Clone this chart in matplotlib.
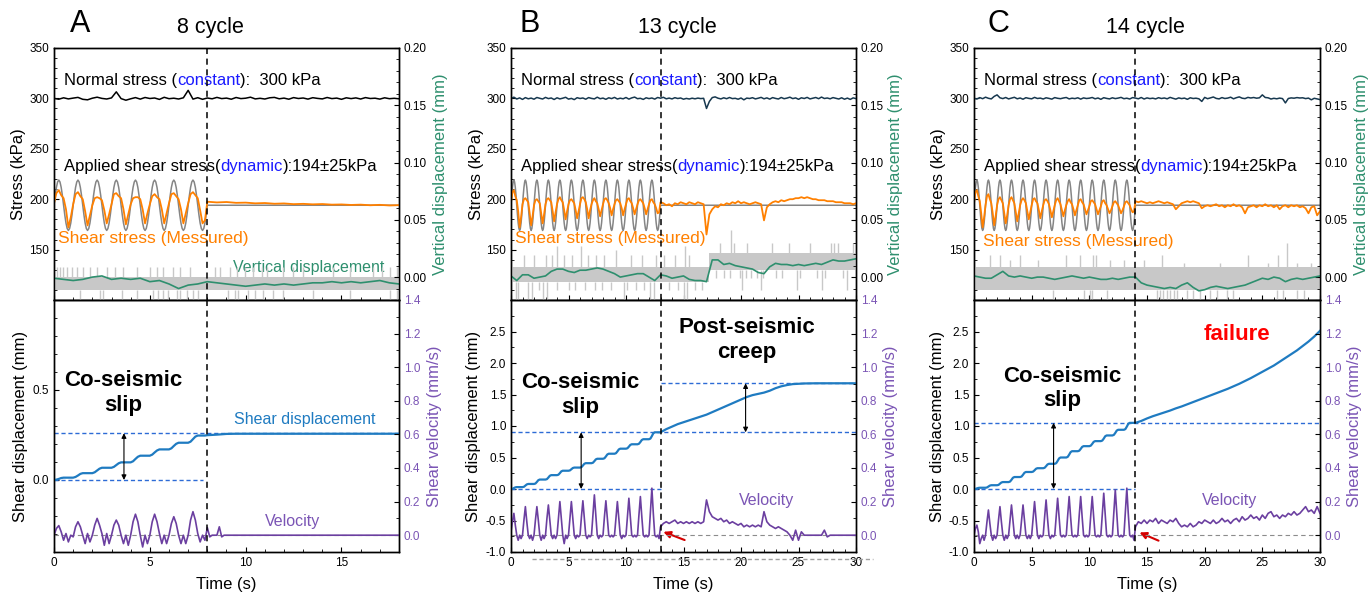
import numpy as np
import matplotlib
matplotlib.use('Agg')
import matplotlib.pyplot as plt
from matplotlib.ticker import AutoMinorLocator, FormatStrFormatter, MultipleLocator
from matplotlib.offsetbox import TextArea, HPacker, AnchoredOffsetbox

plt.rcParams['font.family'] = ['Liberation Sans', 'DejaVu Sans']
plt.rcParams['font.size'] = 8.5
plt.rcParams['axes.linewidth'] = 1.0

ORANGE = '#ff8000'
APPLIED = '#858585'
NAVY = '#17384f'
GREEN = '#2e8f6e'
VDGRAY = '#c8c8c8'
BLUE = '#1f7bc1'
DASHBLUE = '#2d6bd6'
PURPLE = '#6b3fa0'
PURPLE_LBL = '#7b55b5'
WORDBLUE = '#1a1aff'

# applied shear stress: one 1 s loading cycle (16 samples), then hold value
applied_cycle = [194.0, 203.6, 211.7, 217.1, 219.0, 217.1, 211.7, 203.6,
                 194.0, 184.4, 176.3, 170.9, 169.0, 170.9, 176.3, 184.4]
applied_hold = 194.0

# ---------------- panel A : 8 cycles ----------------
normal_a = [300.0, 299.2, 300.6, 299.5, 300.3, 301.0, 299.1, 298.6,
            300.2, 301.2, 300.0, 299.4, 300.5, 306.5, 299.8, 298.2,
            299.6, 300.8, 299.3, 300.9, 299.9, 300.4, 299.0, 301.1,
            299.7, 300.2, 299.4, 300.6, 308.0, 299.3, 300.7, 299.1,
            300.4, 299.6, 301.0, 299.8, 300.3, 299.2, 300.9, 299.8,
            300.2, 301.2, 299.5, 300.1, 299.4, 300.6, 301.0, 299.6,
            300.3, 299.2, 300.8, 299.9, 300.4, 299.3, 300.7, 300.0,
            299.5, 300.9, 299.8, 300.3, 299.1, 300.6, 299.8, 300.5,
            299.4, 300.8, 299.9, 300.2, 299.3, 300.6, 299.7, 300.1, 299.6]
shear_a_cyc = [[196, 206, 209, 204, 201, 190, 172, 182],
               [195, 205, 207, 203, 200, 188, 174, 184],
               [194, 201, 202, 201, 199, 189, 176, 185],
               [195, 205, 206, 203, 201, 190, 175, 185],
               [195, 201, 202, 202, 200, 190, 176, 186],
               [195, 203, 205, 202, 200, 190, 176, 186],
               [196, 205, 206, 203, 200, 190, 176, 186],
               [196, 205, 207, 204, 201, 189, 176, 179]]
shear_a_post = [197.5, 196.8, 197.2, 196.4, 196.6, 195.9, 196.2, 195.5, 195.8, 195.1, 195.4,
                194.9, 195.2, 194.6, 194.8, 194.3, 194.6, 194.0, 194.4, 193.8, 194.1]
vd_a = [-0.001, -0.002, -0.003, -0.002, 0.000, 0.001, -0.002, -0.001, -0.002, -0.001,
        -0.004, -0.003, -0.006, -0.010, -0.007, -0.006, -0.004, -0.005, -0.006, -0.007,
        -0.008, -0.007, -0.006, -0.007, -0.006, -0.007, -0.006, -0.005, -0.005, -0.004,
        -0.005, -0.004, -0.005, -0.004, -0.003, -0.005, -0.006]
vd_band_a_t = [0, 18]
vd_band_a_lo = [-0.011, -0.011]
vd_band_a_hi = [0.0, 0.0]
vd_up_a_t = [0.14, 0.31, 0.49, 0.66, 0.92, 1.18, 1.53, 1.88, 2.23, 2.75, 3.18, 3.62, 4.31, 5.01,
             5.36, 5.70, 6.23, 6.57, 7.10, 8.40, 8.66, 9.18, 9.53, 9.97, 10.40, 10.84, 11.10,
             11.97, 12.49, 13.01, 14.57, 15.44, 16.66, 17.10, 17.53, 17.88]
vd_up_a_y = [0.009] * 36
vd_dn_a_t = [1.36, 2.40, 2.58, 3.53, 4.31, 5.18, 5.44, 5.70, 5.97, 6.40, 6.57, 6.92, 7.27,
             7.53, 9.10, 9.44, 9.62, 10.14, 10.49, 10.92, 11.44, 11.97, 13.53, 15.44, 17.53, 17.88]
vd_dn_a_y = [-0.02] * 26
disp_a_cyc = [[0.000, 0.002, 0.006, 0.011, 0.013, 0.013, 0.013, 0.013],
              [0.013, 0.017, 0.025, 0.034, 0.038, 0.038, 0.038, 0.038],
              [0.038, 0.043, 0.053, 0.063, 0.068, 0.068, 0.068, 0.068],
              [0.068, 0.073, 0.083, 0.093, 0.098, 0.098, 0.098, 0.098],
              [0.098, 0.104, 0.117, 0.129, 0.135, 0.135, 0.135, 0.135],
              [0.135, 0.141, 0.153, 0.164, 0.170, 0.170, 0.170, 0.170],
              [0.170, 0.176, 0.189, 0.201, 0.207, 0.207, 0.207, 0.207],
              [0.207, 0.213, 0.227, 0.241, 0.247, 0.247, 0.247, 0.247]]
disp_a_post = [0.249, 0.252, 0.256, 0.257, 0.257, 0.257, 0.257, 0.257, 0.257, 0.257, 0.257,
               0.257, 0.257, 0.257, 0.257, 0.257, 0.257, 0.257, 0.257, 0.257, 0.257]
vel_a_cyc = [[0.00, 0.04, 0.057, 0.02, -0.03, 0.01, -0.04, 0.00],
             [-0.01, 0.05, 0.08, 0.05, 0.00, -0.05, 0.01, -0.04],
             [0.00, 0.06, 0.10, 0.06, 0.01, -0.06, 0.01, -0.05],
             [0.00, 0.06, 0.09, 0.06, 0.00, -0.05, 0.00, -0.06],
             [0.00, 0.08, 0.125, 0.08, 0.00, -0.07, 0.00, -0.05],
             [0.00, 0.08, 0.125, 0.08, 0.01, -0.05, 0.00, -0.05],
             [0.00, 0.07, 0.11, 0.07, 0.00, -0.05, 0.00, -0.05],
             [0.00, 0.09, 0.14, 0.09, 0.01, -0.04, 0.00, -0.03]]
vel_a_post = [0.045, -0.01, 0.0, 0.0, 0.0, 0.05, -0.01, 0.0, 0.0]   # 8 s .. 9 s
vel_a_tail = [0.0, 0.0]                                              # 9 s .. 18 s

# ---------------- panel B : 13 cycles ----------------
normal_b = [300.0, 301.2, 299.4, 300.5, 299.0, 300.8, 299.6, 300.3,
            299.2, 300.9, 300.1, 299.4, 301.0, 299.8, 300.4, 298.9,
            300.6, 299.5, 300.2, 301.1, 299.3, 300.0, 298.8, 300.7,
            299.9, 300.4, 299.2, 300.8, 300.0, 299.5, 301.2, 299.7,
            300.3, 299.1, 300.6, 299.8, 301.0, 299.4, 300.2, 299.6,
            300.9, 299.3, 300.5, 301.3, 299.7, 300.1, 299.0, 300.6,
            299.8, 300.4, 299.3, 300.9, 300.2, 301.1, 299.6, 300.3,
            299.5, 300.7, 299.9, 300.4, 299.2, 300.0, 299.4, 300.2,
            299.6, 300.3, 299.8, 300.1, 290.0, 297.0, 300.8, 301.5,
            300.2, 299.5, 300.6, 299.7, 300.9, 299.8, 300.1, 299.2,
            300.4, 298.6, 300.3, 299.9, 300.7, 299.5, 300.2, 301.0,
            299.6, 300.5, 299.3, 300.8, 300.0, 299.4, 300.9, 299.7,
            300.3, 301.2, 299.8, 300.5, 299.1, 300.6, 299.9, 301.0,
            299.5, 300.2, 300.9, 299.7, 301.3, 299.9, 300.4, 299.6,
            300.8, 300.1, 299.4, 300.6, 299.2, 300.3, 299.0, 300.5, 299.8]
shear_b_cyc = [[197, 207, 209, 203, 199, 188, 172, 182],
               [195, 200, 201, 199, 197, 186, 174, 183],
               [194, 199, 200, 198, 196, 186, 176, 185],
               [195, 200, 201, 199, 197, 188, 178, 187],
               [195, 200, 202, 199, 197, 189, 180, 188],
               [195, 199, 200, 198, 196, 189, 181, 188],
               [195, 201, 202, 200, 197, 190, 181, 189],
               [195, 199, 201, 198, 196, 190, 183, 189],
               [195, 200, 201, 199, 196, 191, 184, 190],
               [195, 199, 200, 198, 196, 191, 184, 190],
               [195, 200, 201, 198, 196, 191, 185, 190],
               [195, 199, 200, 198, 196, 191, 185, 190],
               [195, 199, 200, 197, 195, 191, 186, 187]]
shear_b_post = [197, 196, 194, 195, 193, 196, 195, 197, 196, 195, 197, 196, 195, 197, 196, 195,
                165, 185, 190, 193, 192, 195, 194, 196, 195, 197, 196, 198, 196, 197, 196, 195,
                196, 197, 196, 195, 179, 192, 195, 197, 198, 197, 199, 198, 199, 200, 200, 201,
                201, 202, 201, 202, 201, 200, 200, 199, 199, 199, 198, 198, 198, 197, 197, 197,
                196, 196, 196, 195, 196]
vd_b = [0.001, -0.003, 0.002, 0.002, -0.001, 0.000, 0.001, 0.005, 0.007, 0.007,
        0.005, 0.004, 0.006, 0.006, 0.007, 0.008, 0.007, 0.005, 0.003, 0.000,
        0.001, 0.002, 0.003, 0.003, 0.000, -0.003, 0.002, 0.001, -0.001, 0.000,
        0.001, -0.002, -0.003, -0.003, -0.004, 0.015, 0.015, 0.011, 0.012, 0.010,
        0.009, 0.008, 0.007, 0.004, 0.003, 0.009, 0.012, 0.011, 0.011, 0.010,
        0.011, 0.010, 0.011, 0.012, 0.011, 0.013, 0.015, 0.014, 0.014, 0.015, 0.016]
vd_band_b_t = [0, 17.2, 30]
vd_band_b_lo = [-0.004, 0.006, 0.006]
vd_band_b_hi = [0.009, 0.021, 0.021]
vd_up_b_t = [1.1, 2.0, 3.0, 3.55, 4.0, 4.6, 5.3, 6.1, 6.7, 7.4, 8.1, 9.1, 10.4, 11.4, 12.6,
             13.3, 14.3, 15.1, 15.5, 18.2, 19.1, 19.4, 20.5, 22.7, 24.2, 26.0, 27.8, 28.1,
             28.4, 29.7]
vd_up_b_y = [0.019, 0.019, 0.019, 0.019, 0.027, 0.019, 0.019, 0.027, 0.019, 0.019, 0.019,
             0.024, 0.019, 0.019, 0.019, 0.019, 0.019, 0.027, 0.019, 0.030, 0.041, 0.030,
             0.030, 0.030, 0.030, 0.030, 0.030, 0.030, 0.030, 0.030]
vd_dn_b_t = [0.4, 0.6, 1.5, 1.8, 2.8, 3.1, 9.8, 12.1, 12.4, 15.0, 15.3,
             2.4, 4.0, 5.0, 5.6, 6.4, 7.3, 7.9, 8.7, 10.1, 10.9, 11.6, 13.7, 14.5, 16.0,
             16.6, 20.1, 21.7, 24.9, 27.0, 29.2,
             17.8, 18.5, 19.0, 19.9, 20.4, 20.9, 21.4, 21.9, 23.0, 23.6, 25.1, 26.6, 27.3, 28.9]
vd_dn_b_y = [-0.02] * 11 + [-0.011] * 20 + [-0.001] * 14
disp_b_cyc = [[0.000, 0.003, 0.014, 0.026, 0.030, 0.030, 0.030, 0.030],
              [0.030, 0.035, 0.053, 0.073, 0.080, 0.080, 0.080, 0.080],
              [0.080, 0.087, 0.112, 0.140, 0.150, 0.150, 0.150, 0.150],
              [0.150, 0.157, 0.182, 0.210, 0.220, 0.220, 0.220, 0.220],
              [0.220, 0.227, 0.252, 0.280, 0.290, 0.290, 0.290, 0.290],
              [0.290, 0.295, 0.313, 0.333, 0.340, 0.340, 0.340, 0.340],
              [0.340, 0.347, 0.372, 0.400, 0.410, 0.410, 0.410, 0.410],
              [0.410, 0.417, 0.442, 0.470, 0.480, 0.480, 0.480, 0.480],
              [0.480, 0.488, 0.516, 0.548, 0.560, 0.560, 0.560, 0.560],
              [0.560, 0.568, 0.596, 0.628, 0.640, 0.640, 0.640, 0.640],
              [0.640, 0.647, 0.672, 0.700, 0.710, 0.710, 0.710, 0.710],
              [0.710, 0.718, 0.746, 0.778, 0.790, 0.790, 0.790, 0.790],
              [0.790, 0.801, 0.840, 0.884, 0.900, 0.900, 0.900, 0.900]]
disp_b_post = [0.90, 0.95, 0.99, 1.03, 1.06, 1.09, 1.12, 1.15, 1.18, 1.22, 1.26, 1.30,
               1.34, 1.38, 1.42, 1.46, 1.49, 1.51, 1.53, 1.56, 1.60, 1.63, 1.65, 1.665,
               1.67, 1.675, 1.677, 1.678, 1.678, 1.678, 1.678, 1.678, 1.678, 1.678, 1.678]
vel_b_cyc = [[0.02, 0.08, 0.13, 0.06, 0.00, -0.03, 0.00, -0.02],
             [0.00, 0.09, 0.17, 0.08, 0.00, -0.02, 0.00, -0.03],
             [0.00, 0.09, 0.17, 0.09, 0.00, -0.03, 0.00, -0.02],
             [0.00, 0.10, 0.18, 0.09, 0.00, -0.02, 0.00, -0.02],
             [0.00, 0.10, 0.20, 0.10, 0.00, -0.05, 0.00, -0.02],
             [0.00, 0.10, 0.20, 0.10, 0.00, -0.02, 0.00, -0.01],
             [0.00, 0.11, 0.205, 0.10, 0.00, -0.02, 0.00, -0.01],
             [0.00, 0.12, 0.24, 0.12, 0.00, -0.02, 0.00, -0.01],
             [0.00, 0.11, 0.205, 0.10, 0.00, -0.01, 0.00, -0.01],
             [0.00, 0.10, 0.20, 0.10, 0.00, -0.02, 0.00, -0.01],
             [0.00, 0.11, 0.22, 0.11, 0.00, -0.01, 0.00, -0.01],
             [0.00, 0.12, 0.23, 0.11, 0.00, -0.01, 0.00, -0.01],
             [0.00, 0.14, 0.28, 0.13, 0.00, -0.01, 0.00, -0.02]]
vel_b_post = [0.05, 0.07, 0.08, 0.07, 0.08, 0.09, 0.07, 0.08, 0.07, 0.08, 0.07, 0.08, 0.07,
              0.08, 0.07, 0.08, 0.21, 0.14, 0.11, 0.10, 0.09, 0.10, 0.08, 0.09, 0.07, 0.08,
              0.07, 0.06, 0.07, 0.05, 0.06, 0.05, 0.06, 0.05, 0.06, 0.05, 0.14, 0.08, 0.06,
              0.05, 0.04, 0.05, 0.04, 0.03, 0.02, 0.00, -0.03, 0.03, -0.03, 0.02, 0.00, 0.00,
              0.00, 0.00, 0.00, 0.00, 0.00, 0.03, -0.01, 0.00, 0.00, 0.00, 0.00, 0.00, 0.00,
              0.00, 0.00, 0.00, 0.00]

# ---------------- panel C : 14 cycles ----------------
normal_c = [300.0, 299.4, 300.8, 299.7, 301.2, 300.1, 299.5, 302.0,
            303.5, 300.6, 299.8, 300.9, 299.5, 300.3, 301.1, 299.6,
            300.4, 299.2, 300.7, 300.0, 299.6, 301.0, 299.9, 300.3,
            299.4, 300.6, 300.0, 299.3, 300.8, 300.1, 299.7, 300.4,
            300.9, 299.5, 300.2, 299.8, 300.6, 299.3, 300.5, 299.9,
            300.2, 300.9, 299.6, 300.4, 299.1, 300.7, 300.0, 299.5,
            300.6, 299.8, 300.3, 301.0, 299.7, 300.2, 299.4, 300.8,
            300.3, 299.6, 300.9, 299.4, 300.5, 299.8, 300.2, 299.5,
            300.7, 299.9, 300.4, 299.6, 301.0, 300.1, 299.3, 300.5,
            299.8, 300.3, 299.1, 300.6, 299.9, 300.2, 299.6, 297.0,
            301.0, 299.7, 300.5, 301.4, 300.0, 299.5, 300.8, 299.9,
            300.3, 301.2, 299.6, 300.7, 301.5, 300.2, 299.8, 301.0,
            300.4, 300.9, 300.2, 300.6, 303.5, 300.9, 300.6, 299.4,
            300.1, 299.6, 300.3, 299.8, 295.5, 299.9, 300.5, 300.2,
            300.8, 300.4, 300.6, 299.8, 300.3, 298.6, 300.1, 299.5, 298.8]
shear_c_cyc = [[196, 207, 209, 203, 198, 186, 172, 182],
               [194, 203, 205, 200, 196, 186, 174, 183],
               [194, 200, 202, 199, 196, 186, 176, 184],
               [194, 200, 202, 199, 196, 187, 178, 186],
               [194, 199, 201, 199, 196, 188, 180, 187],
               [194, 200, 201, 198, 196, 189, 181, 188],
               [194, 199, 200, 198, 195, 189, 182, 188],
               [194, 199, 201, 198, 195, 189, 183, 189],
               [194, 198, 200, 197, 195, 190, 184, 189],
               [194, 199, 200, 197, 195, 190, 185, 189],
               [193, 198, 199, 197, 195, 190, 185, 189],
               [193, 198, 199, 196, 194, 190, 186, 189],
               [193, 197, 198, 196, 194, 190, 186, 189],
               [193, 197, 198, 196, 194, 190, 187, 188]]
shear_c_post = [198, 197, 198, 197, 196, 197, 196, 197, 198, 197, 196, 197, 196, 195, 190,
                193, 196, 197, 198, 197, 198, 197, 196, 191, 193, 194, 193, 194, 195, 193,
                194, 192, 194, 193, 195, 193, 194, 192, 186, 192, 193, 194, 192, 194, 193,
                195, 193, 194, 192, 194, 190, 193, 194, 192, 194, 193, 194, 192, 193, 191,
                186, 192, 193, 184, 188]
vd_c = [0.001, 0.000, -0.001, -0.001, 0.002, 0.005, 0.001, 0.000, 0.001, 0.000,
        -0.001, 0.000, 0.000, -0.001, -0.002, -0.001, 0.000, 0.001, 0.000, -0.001,
        0.000, -0.001, -0.002, -0.002, -0.001, -0.002, -0.001, 0.000, 0.000, -0.005,
        -0.007, -0.008, -0.009, -0.010, -0.009, -0.010, -0.007, -0.005, -0.009, -0.012,
        -0.011, -0.009, -0.008, -0.009, -0.010, -0.009, -0.008, -0.007, -0.005, -0.003,
        -0.001, -0.002, 0.000, -0.001, -0.004, -0.002, -0.001, -0.002, -0.001, 0.000, 0.001]
vd_band_c_t = [0, 30]
vd_band_c_lo = [-0.011, -0.011]
vd_band_c_hi = [0.009, 0.009]
vd_up_c_t = [1.36, 2.23, 3.1, 4.0, 5.56, 8.0, 9.2, 10.3, 10.6, 11.8, 13.0, 14.7, 16.3, 18.2,
             21.3, 23.8, 25.5, 26.4, 27.1, 28.0, 29.2]
vd_up_c_y = [0.019, 0.019, 0.015, 0.019, 0.015, 0.019, 0.019, 0.019, 0.019, 0.015, 0.015,
             0.015, 0.019, 0.012, 0.012, 0.019, 0.012, 0.019, 0.030, 0.012, 0.012]
vd_dn_c_t = [6.87, 9.5, 10.05, 10.2, 11.5, 15.85, 16.1, 16.4, 16.7, 17.0, 17.3, 17.6, 18.5,
             19.0, 19.6, 20.5, 21.1, 21.9, 22.5, 26.3, 26.8, 28.0, 28.6]
vd_dn_c_y = [-0.02] * 23
disp_c_cyc = [[0.000, 0.002, 0.009, 0.017, 0.020, 0.020, 0.020, 0.020],
              [0.020, 0.024, 0.038, 0.054, 0.060, 0.060, 0.060, 0.060],
              [0.060, 0.065, 0.083, 0.103, 0.110, 0.110, 0.110, 0.110],
              [0.110, 0.118, 0.146, 0.178, 0.190, 0.190, 0.190, 0.190],
              [0.190, 0.198, 0.226, 0.258, 0.270, 0.270, 0.270, 0.270],
              [0.270, 0.276, 0.297, 0.321, 0.330, 0.330, 0.330, 0.330],
              [0.330, 0.337, 0.362, 0.390, 0.400, 0.400, 0.400, 0.400],
              [0.400, 0.410, 0.445, 0.485, 0.500, 0.500, 0.500, 0.500],
              [0.500, 0.510, 0.545, 0.585, 0.600, 0.600, 0.600, 0.600],
              [0.600, 0.608, 0.636, 0.668, 0.680, 0.680, 0.680, 0.680],
              [0.680, 0.688, 0.716, 0.748, 0.760, 0.760, 0.760, 0.760],
              [0.760, 0.769, 0.800, 0.837, 0.850, 0.850, 0.850, 0.850],
              [0.850, 0.859, 0.890, 0.927, 0.940, 0.940, 0.940, 0.940],
              [0.940, 0.951, 0.990, 1.034, 1.050, 1.050, 1.050, 1.050]]
disp_c_post = [1.05, 1.08, 1.12, 1.155, 1.185, 1.215, 1.245, 1.28, 1.31, 1.345, 1.38, 1.415,
               1.45, 1.485, 1.52, 1.555, 1.59, 1.63, 1.67, 1.715, 1.76, 1.81, 1.86, 1.91,
               1.96, 2.02, 2.08, 2.14, 2.20, 2.27, 2.34, 2.42, 2.51]
vel_c_cyc = [[0.00, 0.04, 0.06, 0.02, -0.05, -0.02, 0.00, -0.03],
             [0.00, 0.08, 0.15, 0.07, 0.00, -0.03, 0.00, -0.02],
             [0.00, 0.09, 0.17, 0.08, 0.00, -0.03, 0.00, -0.02],
             [0.00, 0.09, 0.18, 0.09, 0.00, -0.02, 0.00, -0.02],
             [0.00, 0.09, 0.18, 0.09, 0.00, -0.02, 0.00, -0.02],
             [0.00, 0.10, 0.20, 0.10, 0.00, -0.02, 0.00, -0.01],
             [0.00, 0.11, 0.21, 0.10, 0.00, -0.02, 0.00, -0.01],
             [0.00, 0.11, 0.22, 0.11, 0.00, -0.01, 0.00, -0.01],
             [0.00, 0.12, 0.23, 0.11, 0.00, -0.01, 0.00, -0.01],
             [0.00, 0.12, 0.23, 0.11, 0.00, -0.01, 0.00, -0.01],
             [0.00, 0.12, 0.23, 0.11, 0.00, -0.01, 0.00, -0.01],
             [0.00, 0.13, 0.25, 0.12, 0.00, -0.01, 0.00, -0.01],
             [0.00, 0.14, 0.27, 0.13, 0.00, -0.01, 0.00, -0.01],
             [0.00, 0.14, 0.28, 0.13, 0.00, -0.01, 0.00, -0.03]]
vel_c_post = [0.05, 0.08, 0.07, 0.09, 0.07, 0.09, 0.08, 0.10, 0.07, 0.09, 0.08, 0.07, 0.09,
              0.08, 0.10, 0.07, 0.05, 0.06, 0.05, 0.07, 0.05, 0.06, 0.08, 0.07, 0.09, 0.08,
              0.07, 0.09, 0.07, 0.08, 0.10, 0.08, 0.09, 0.07, 0.09, 0.10, 0.08, 0.11, 0.09,
              0.10, 0.12, 0.10, 0.11, 0.09, 0.12, 0.10, 0.13, 0.14, 0.11, 0.12, 0.10, 0.12,
              0.11, 0.13, 0.12, 0.14, 0.12, 0.13, 0.15, 0.17, 0.14, 0.15, 0.13, 0.17, 0.13]


def cyc_series(cycles, per_s):
    y = np.ravel(np.asarray(cycles, float))
    return np.arange(len(y)) / per_s, y


def seg(t0, t1, vals):
    return np.linspace(t0, t1, len(vals)), np.asarray(vals, float)


def join(*parts):
    return np.concatenate([p[0] for p in parts]), np.concatenate([p[1] for p in parts])


def rich_text(ax, x, y, parts, size):
    boxes = [TextArea(s, textprops=dict(color=c, fontsize=size)) for s, c in parts]
    pack = HPacker(children=boxes, align='baseline', pad=0, sep=0)
    box = AnchoredOffsetbox(loc='center left', child=pack, pad=0, borderpad=0, frameon=False,
                            bbox_to_anchor=(x, y), bbox_transform=ax.transAxes)
    ax.add_artist(box)


def band_at(t, band_t, band_v):
    idx = np.clip(np.searchsorted(band_t, t, side='right') - 1, 0, len(band_v) - 1)
    return np.asarray(band_v)[idx]


panels = [
    dict(px=(54, 399), tmax=18, trig=8, ncyc=8, letter='A', title='8 cycle', lx=80, tx=210,
         ncolor='black', normal=normal_a, shear_cyc=shear_a_cyc, shear_post=shear_a_post,
         vd=vd_a, band=(vd_band_a_t, vd_band_a_lo, vd_band_a_hi),
         up=(vd_up_a_t, vd_up_a_y), dn=(vd_dn_a_t, vd_dn_a_y),
         disp_cyc=disp_a_cyc, disp_post=disp_a_post,
         vel=[('cyc', vel_a_cyc), (8, 9, vel_a_post), (9, 18, vel_a_tail)],
         dylim=(-0.4, 1.0), dticks=[0.0, 0.5],
         hlines=[(0.0, 0, 7.8), (0.26, 0, 18)], arrows=[(3.65, 0.0, 0.26)],
         slip_xy=(0.2, 0.631), stress_lbl=(0.012, 0.246), vel_lbl=(0.691, 0.12),
         ylab_t=-0.081, ylab_b=-0.0745, ylab_tr=1.099, ylab_br=1.081),
    dict(px=(511, 856), tmax=30, trig=13, ncyc=13, letter='B', title='13 cycle', lx=530, tx=677,
         ncolor=NAVY, normal=normal_b, shear_cyc=shear_b_cyc, shear_post=shear_b_post,
         vd=vd_b, band=(vd_band_b_t, vd_band_b_lo, vd_band_b_hi),
         up=(vd_up_b_t, vd_up_b_y), dn=(vd_dn_b_t, vd_dn_b_y),
         disp_cyc=disp_b_cyc, disp_post=disp_b_post,
         vel=[('cyc', vel_b_cyc), (13, 30, vel_b_post)],
         dylim=(-1.0, 3.0), dticks=np.arange(-1.0, 2.51, 0.5),
         hlines=[(0.0, 0, 13.1), (0.9, 0, 30), (1.678, 13, 30)],
         arrows=[(6.1, 0.0, 0.9), (20.4, 0.9, 1.678)],
         slip_xy=(0.2, 0.623), stress_lbl=(0.012, 0.246), vel_lbl=(0.741, 0.204),
         red=((13.25, -0.68), (15.1, -0.81)),
         ylab_t=-0.079, ylab_b=-0.087, ylab_tr=1.094, ylab_br=1.077),
    dict(px=(974, 1320), tmax=30, trig=14, ncyc=14, letter='C', title='14 cycle', lx=998, tx=1145,
         ncolor=NAVY, normal=normal_c, shear_cyc=shear_c_cyc, shear_post=shear_c_post,
         vd=vd_c, band=(vd_band_c_t, vd_band_c_lo, vd_band_c_hi),
         up=(vd_up_c_t, vd_up_c_y), dn=(vd_dn_c_t, vd_dn_c_y),
         disp_cyc=disp_c_cyc, disp_post=disp_c_post,
         vel=[('cyc', vel_c_cyc), (14, 30, vel_c_post)],
         dylim=(-1.0, 3.0), dticks=np.arange(-1.0, 2.51, 0.5),
         hlines=[(0.0, 0, 14), (1.05, 0, 30)], arrows=[(6.9, 0.0, 1.05)],
         slip_xy=(0.254, 0.65), stress_lbl=(0.026, 0.231), vel_lbl=(0.738, 0.204),
         red=((14.35, -0.69), (16.0, -0.82)),
         ylab_t=-0.082, ylab_b=-0.085, ylab_tr=1.097, ylab_br=1.078),
]

W, H = 1371, 594
fig = plt.figure(figsize=(W / 100, H / 100), dpi=100)
TOP, MID, BOT = 48, 300, 552

for p in panels:
    l, r = p['px']
    ax_t = fig.add_axes([l / W, 1 - MID / H, (r - l) / W, (MID - TOP) / H])
    ax_b = fig.add_axes([l / W, 1 - BOT / H, (r - l) / W, (BOT - MID) / H])
    ax_tr = ax_t.twinx()
    ax_br = ax_b.twinx()
    tmax, trig, n = p['tmax'], p['trig'], p['ncyc']

    # ---- top: stresses ----
    t_app, y_app = join(cyc_series(applied_cycle * n, 16), seg(trig, tmax, [applied_hold] * 2))
    ax_t.plot(t_app, y_app, color=APPLIED, lw=1.1, zorder=2)
    t_sh, y_sh = join(cyc_series(p['shear_cyc'], 8), seg(trig, tmax, p['shear_post']))
    ax_t.plot(t_sh, y_sh, color=ORANGE, lw=1.3, zorder=3)
    t_n, y_n = seg(0, tmax, p['normal'])
    ax_t.plot(t_n, y_n, color=p['ncolor'], lw=1.1, zorder=3)

    bt, blo, bhi = p['band']
    ax_tr.fill_between(bt, blo, bhi, step='post', color=VDGRAY, lw=0, zorder=1)
    ut, uy = p['up']
    ax_tr.vlines(ut, band_at(ut, bt, bhi), uy, color=VDGRAY, lw=1.0, zorder=1)
    dt_, dy = p['dn']
    ax_tr.vlines(dt_, dy, band_at(dt_, bt, blo), color=VDGRAY, lw=1.0, zorder=1)
    t_v, y_v = seg(0, tmax, p['vd'])
    ax_tr.plot(t_v, y_v, color=GREEN, lw=1.2, zorder=2)

    ax_t.set_xlim(0, tmax)
    ax_t.set_ylim(100, 350)
    ax_t.set_yticks([150, 200, 250, 300, 350])
    ax_t.yaxis.set_minor_locator(AutoMinorLocator(5))
    ax_t.xaxis.set_major_locator(MultipleLocator(5))
    ax_t.xaxis.set_minor_locator(MultipleLocator(1))
    ax_t.tick_params(axis='both', which='both', direction='in', labelbottom=False, right=False)
    ax_t.tick_params(which='major', length=3.5, width=0.8)
    ax_t.tick_params(which='minor', length=2, width=0.6)
    ax_tr.set_ylim(-0.02, 0.20)
    ax_tr.set_yticks([0.0, 0.05, 0.10, 0.15, 0.20])
    ax_tr.yaxis.set_major_formatter(FormatStrFormatter('%.2f'))
    ax_tr.yaxis.set_minor_locator(AutoMinorLocator(5))
    ax_tr.tick_params(which='both', direction='in')
    ax_tr.tick_params(which='major', length=3.5, width=0.8)
    ax_tr.tick_params(which='minor', length=2, width=0.6)

    ax_t.set_ylabel('Stress (kPa)', fontsize=12)
    ax_t.yaxis.set_label_coords(p['ylab_t'], 0.5)
    ax_tr.set_ylabel('Vertical displacement (mm)', fontsize=12, color=GREEN)
    ax_tr.yaxis.set_label_coords(p['ylab_tr'], 0.5)

    rich_text(ax_t, 0.028, 0.87, [('Normal stress (', 'black'), ('constant', WORDBLUE),
                                  ('):  300 kPa', 'black')], 12)
    rich_text(ax_t, 0.028, 0.529, [('Applied shear stress(', 'black'), ('dynamic', WORDBLUE),
                                   ('):194±25kPa', 'black')], 12)
    ax_t.text(p['stress_lbl'][0], p['stress_lbl'][1], 'Shear stress (Messured)', color=ORANGE,
              fontsize=12.5, transform=ax_t.transAxes, ha='left', va='center')
    if p['letter'] == 'A':
        ax_t.text(0.519, 0.127, 'Vertical displacement', color=GREEN, fontsize=11.5,
                  transform=ax_t.transAxes, ha='left', va='center')

    # ---- bottom: displacement and velocity ----
    t_d, y_d = join(cyc_series(p['disp_cyc'], 8), seg(trig, tmax, p['disp_post']))
    ax_b.plot(t_d, y_d, color=BLUE, lw=1.6, zorder=3)
    for lev, x0, x1 in p['hlines']:
        ax_b.plot([x0, x1], [lev, lev], color=DASHBLUE, lw=1.0, ls=(0, (3, 2)), zorder=2)
    for xa, y0, y1 in p['arrows']:
        ax_b.annotate('', xy=(xa, y1), xytext=(xa, y0),
                      arrowprops=dict(arrowstyle='<|-|>', color='black', lw=0.8,
                                      mutation_scale=7, shrinkA=0, shrinkB=0))

    parts = []
    for piece in p['vel']:
        if piece[0] == 'cyc':
            parts.append(cyc_series(piece[1], 8))
        else:
            parts.append(seg(piece[0], piece[1], piece[2]))
    t_vel, y_vel = join(*parts)
    ax_br.axhline(0.0, color='#8c8c8c', lw=0.8, ls=(0, (4, 3)), zorder=1)
    ax_br.plot(t_vel, y_vel, color=PURPLE, lw=1.2, zorder=2)

    ax_b.set_xlim(0, tmax)
    ax_b.set_ylim(*p['dylim'])
    ax_b.set_yticks(p['dticks'])
    ax_b.yaxis.set_major_formatter(FormatStrFormatter('%.1f'))
    ax_b.yaxis.set_minor_locator(AutoMinorLocator(5 if p['letter'] == 'A' else 2))
    ax_b.xaxis.set_major_locator(MultipleLocator(5))
    ax_b.xaxis.set_minor_locator(MultipleLocator(1))
    ax_b.tick_params(axis='both', which='both', direction='in', right=False)
    ax_b.tick_params(which='major', length=3.5, width=0.8)
    ax_b.tick_params(which='minor', length=2, width=0.6)
    ax_br.set_ylim(-0.1, 1.4)
    ax_br.set_yticks(np.arange(0.0, 1.41, 0.2))
    ax_br.yaxis.set_major_formatter(FormatStrFormatter('%.1f'))
    ax_br.yaxis.set_minor_locator(AutoMinorLocator(2))
    ax_br.tick_params(which='both', direction='in', labelcolor=PURPLE_LBL)
    ax_br.tick_params(which='major', length=3.5, width=0.8)
    ax_br.tick_params(which='minor', length=2, width=0.6)

    ax_b.set_xlabel('Time (s)', fontsize=12, labelpad=6)
    ax_b.set_ylabel('Shear displacement (mm)', fontsize=12)
    ax_b.yaxis.set_label_coords(p['ylab_b'], 0.5)
    ax_br.set_ylabel('Shear velocity (mm/s)', fontsize=12, color=PURPLE_LBL)
    ax_br.yaxis.set_label_coords(p['ylab_br'], 0.5)

    ax_b.text(p['slip_xy'][0], p['slip_xy'][1], 'Co-seismic\nslip', fontsize=16,
              fontweight='bold', ha='center', va='center', linespacing=1.2,
              transform=ax_b.transAxes)
    ax_b.text(p['vel_lbl'][0], p['vel_lbl'][1], 'Velocity', fontsize=11.5, color=PURPLE_LBL,
              ha='center', va='center', transform=ax_b.transAxes)
    if p['letter'] == 'A':
        ax_b.text(0.7275, 0.524, 'Shear displacement', fontsize=11.5, color=BLUE,
                  ha='center', va='center', transform=ax_b.transAxes)
    if p['letter'] == 'B':
        ax_b.text(0.683, 0.841, 'Post-seismic\ncreep', fontsize=16, fontweight='bold',
                  ha='center', va='center', linespacing=1.2, transform=ax_b.transAxes)
        ax_b.plot([0.062, 1.049], [-0.028, -0.028], transform=ax_b.transAxes, clip_on=False,
                  color='#a0a0a0', lw=1.0, ls=(0, (3, 2)))
    if p['letter'] == 'C':
        ax_b.text(0.76, 0.865, 'failure', fontsize=16, fontweight='bold', color='#ff0000',
                  ha='center', va='center', transform=ax_b.transAxes)
    if 'red' in p:
        ax_b.annotate('', xy=p['red'][0], xytext=p['red'][1],
                      arrowprops=dict(arrowstyle='-|>', color='#d40000', lw=1.5,
                                      mutation_scale=10, shrinkA=0, shrinkB=0))

    # trigger line through both parts
    ax_tr.axvline(trig, color='black', lw=1.1, ls=(0, (4, 3)), zorder=5)
    ax_br.axvline(trig, color='black', lw=1.1, ls=(0, (4, 3)), zorder=5)

    fig.text(p['lx'] / W, 1 - 24 / H, p['letter'], fontsize=22, ha='center', va='center')
    fig.text(p['tx'] / W, 1 - 27.5 / H, p['title'], fontsize=15.5, ha='center', va='center')

fig.savefig('out.png', dpi=100)
